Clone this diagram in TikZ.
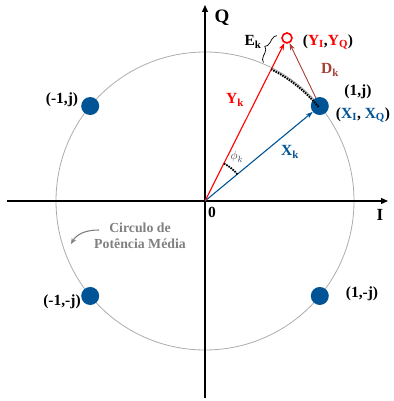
\documentclass[tikz,border=0pt]{standalone}
\usepackage{fontspec}
\setmainfont{Liberation Serif}
\usepackage{xcolor}
\usetikzlibrary{arrows.meta,positioning,calc,decorations.pathreplacing}
\definecolor{dotblue}{RGB}{0,84,150}
\definecolor{dkbrown}{RGB}{168,62,52}

\begin{document}
\begin{tikzpicture}[x=1pt, y=1pt, every node/.style={font=\fontsize{15.5}{18}\selectfont\bfseries},
  pt/.style={circle,fill=dotblue,inner sep=0pt,minimum size=18pt},
  lbl/.style={inner sep=0pt},
  tip/.style={-{Stealth[length=7pt,width=5pt]}}]
  \useasboundingbox (-205,-200) rectangle (188,201);
  \coordinate (o) at (0,0);
  \draw[gray!65,line width=0.8pt] (o) circle (149);
  \draw[line width=1.2pt,-{Triangle[length=7pt,width=6pt]}] (-198,0) -- (183,0);
  \draw[line width=1.2pt,-{Triangle[length=7pt,width=6pt]}] (0,-197) -- (0,196);
  \node[lbl,font=\fontsize{19}{21}\selectfont\bfseries] (q) at (17,183) {Q};
  \node[lbl,font=\fontsize{17}{19}\selectfont\bfseries] (i) at (175,-14) {I};
  \node[lbl] (zero) at (7,-11) {0};

  \node[pt] (x) at (39.6:149) {};
  \node[pt] (mp) at (140.4:149) {};
  \node[pt] (mm) at (-140.4:149) {};
  \node[pt] (pm) at (-39.6:149) {};
  \node[circle,draw=red,line width=1.6pt,fill=white,inner sep=0pt,minimum size=10pt] (y) at (63.3:182.5) {};

  \draw[dotblue,line width=1.1pt,tip] (o) -- (x);
  \draw[red,line width=1.1pt,tip] (o) -- (y);
  \draw[dkbrown,line width=0.9pt,tip] (x) -- (y);
  \draw[line width=2pt,dash pattern=on 1.6pt off 1pt] (39.6:147.5) arc (39.6:63.3:147.5);
  \draw[line width=1.8pt,dash pattern=on 1.6pt off 1pt] (39.6:42) arc (39.6:63.3:42);
  \draw[decorate,decoration={brace,amplitude=6pt},line width=0.7pt]
    ($(63.3:150)+(153.3:10)$) -- ($(63.3:180)+(153.3:10)$);

  \node[lbl] (ek) at (48,159) {E\textsubscript{k}};
  \node[lbl,red] (yk) at (30,101) {Y\textsubscript{k}};
  \node[lbl,dotblue] (xk) at (85,49) {X\textsubscript{k}};
  \node[lbl,dkbrown] (dk) at (125,131) {D\textsubscript{k}};
  \node[lbl,black!75,font=\fontsize{13}{15}\selectfont] (phi) at (32,44) {$\phi_k$};
  \node[lbl] (ycoord) at (123,159) {(\textcolor{red}{Y\textsubscript{I}},\textcolor{red}{Y\textsubscript{Q}})};
  \node[lbl] (xcoord) at (158,86) {(\textcolor{dotblue}{X\textsubscript{I}}, \textcolor{dotblue}{X\textsubscript{Q}})};
  \node[lbl] (lpp) at (153,109) {(1,j)};
  \node[lbl] (lmp) at (-143,101) {(-1,j)};
  \node[lbl] (lmm) at (-143,-101) {(-1,-j)};
  \node[lbl] (lpm) at (157,-93) {(1,-j)};

  \node[lbl,gray,align=center,font=\fontsize{13.8}{15.5}\selectfont\bfseries] (circ) at (-65,-35)
    {Circulo de\\Potência Média};
  \coordinate (cs) at (-106,-29);
  \coordinate (ce) at (-134,-43);
  \draw[gray,line width=1.1pt,-{Stealth[length=6pt,width=5pt]}] (cs) to[out=180,in=60] (ce);
\end{tikzpicture}
\end{document}
